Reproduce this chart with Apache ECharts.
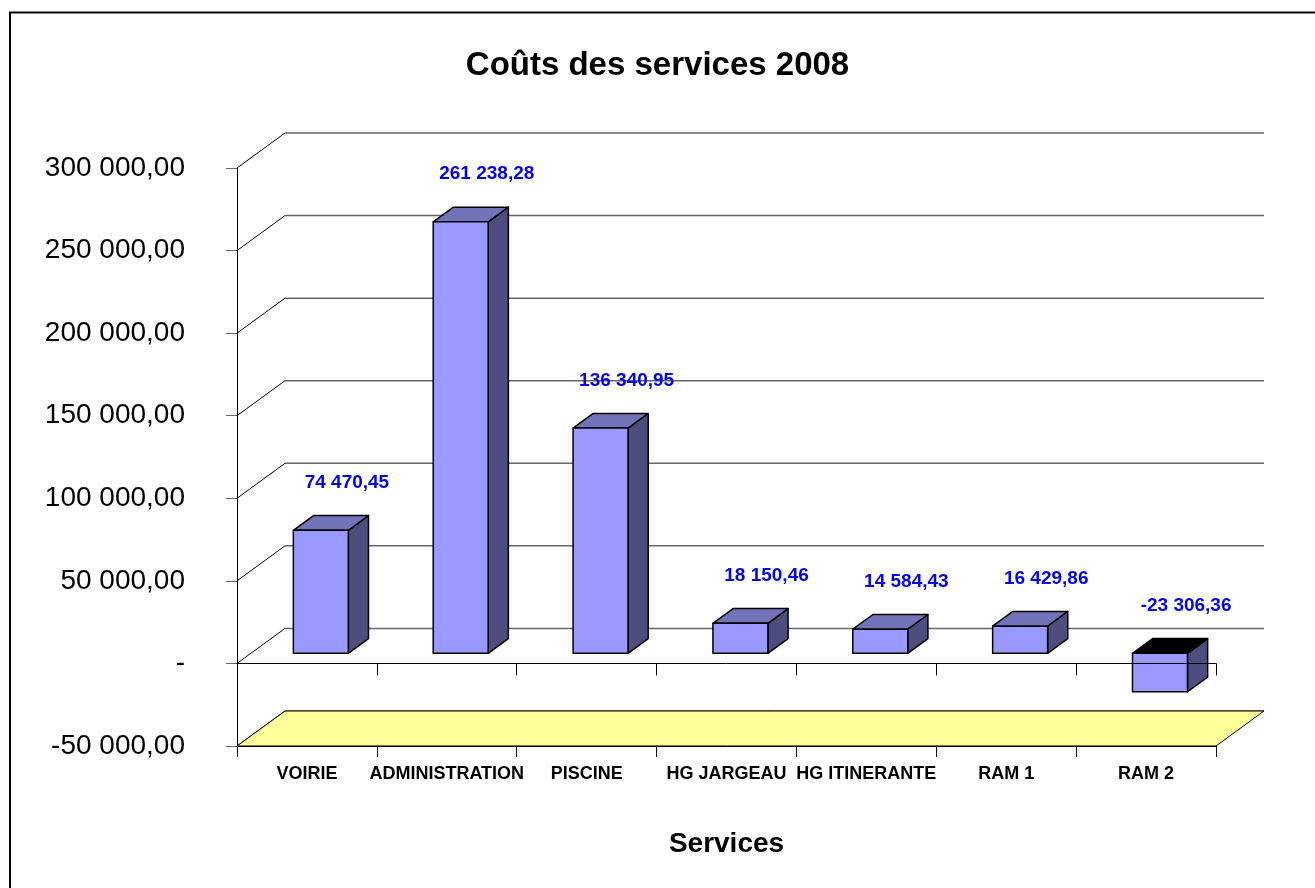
<!DOCTYPE html>
<html>
<head>
<meta charset="utf-8">
<script src="https://cdn.jsdelivr.net/npm/echarts@6/dist/echarts.min.js"></script>
<style>
html, body { margin: 0; padding: 0; background: #fff; }
#chart { width: 1315px; height: 888px; }
</style>
</head>
<body>
<div id="chart"></div>
<script>
// données
const services = ["VOIRIE", "ADMINISTRATION", "PISCINE", "HG JARGEAU", "HG ITINERANTE", "RAM 1", "RAM 2"];
const couts = [74470.45, 261238.28, 136340.95, 18150.46, 14584.43, 16429.86, -23306.36];
const yTicks = [-50000, 0, 50000, 100000, 150000, 200000, 250000, 300000];

// effet 3D (profondeur du mur)
const DX = 48, DY = -35;
const F1 = 0.29, F2 = 0.71; // position de la barre dans la profondeur
const FONT = "'Liberation Sans', Arial, sans-serif";

const fmt = (v) => {
	if (v === 0) return "-";
	const s = Math.abs(v).toFixed(2).split(".");
	const ent = s[0].replace(/\B(?=(\d{3})+(?!\d))/g, " ");
	return (v < 0 ? "-" : "") + ent + "," + s[1];
};

const chart = echarts.init(document.getElementById("chart"));

// lignes du quadrillage (mur gauche + mur du fond)
const renderGrid = (params, api) => {
	const v = api.value(1);
	const band = api.size([1, 0])[0];
	const p0 = api.coord([0, v]);
	const p1 = api.coord([services.length - 1, v]);
	const x0 = p0[0] - band / 2;
	const x1 = p1[0] + band / 2;
	const y = p0[1];
	return {
		type: "group",
		children: [
			{
				type: "polyline",
				shape: { points: [[x0, y], [x0 + DX, y + DY]] },
				style: { stroke: "#000", lineWidth: 1, fill: null }
			},
			{
				type: "line",
				shape: { x1: x0 + DX, y1: y + DY, x2: x1 + DX, y2: y + DY },
				style: { stroke: "#666", lineWidth: 1.5 }
			}
		]
	};
};

// plancher jaune
const renderFloor = (params, api) => {
	const v = api.value(1);
	const band = api.size([1, 0])[0];
	const p0 = api.coord([0, v]);
	const p1 = api.coord([services.length - 1, v]);
	const x0 = p0[0] - band / 2;
	const x1 = p1[0] + band / 2;
	const y = p0[1];
	return {
		type: "polygon",
		shape: { points: [[x0, y], [x1, y], [x1 + DX, y + DY], [x0 + DX, y + DY]] },
		style: { fill: "#FFFF99", stroke: "#000", lineWidth: 1 }
	};
};

// barres 3D
const renderBar = (params, api) => {
	const i = api.value(0);
	const v = api.value(1);
	const band = api.size([1, 0])[0];
	const base = api.coord([i, 0]);
	const top = api.coord([i, v]);
	const w = band * 0.393;
	const ox = DX * F1, oy = DY * F1;
	const dx = DX * (F2 - F1), dy = DY * (F2 - F1);
	const xl = base[0] - w / 2 + ox;
	const xr = xl + w;
	const yT = Math.min(base[1], top[1]) + oy;
	const yB = Math.max(base[1], top[1]) + oy;
	const line = { stroke: "#000", lineWidth: 1.5, lineJoin: "round" };
	const anchorY = (v >= 0 ? top[1] : base[1]);
	return {
		type: "group",
		children: [
			{
				type: "polygon",
				shape: { points: [[xr, yT], [xr + dx, yT + dy], [xr + dx, yB + dy], [xr, yB]] },
				style: Object.assign({ fill: "#4D4D80" }, line)
			},
			{
				type: "polygon",
				shape: { points: [[xl, yT], [xl + dx, yT + dy], [xr + dx, yT + dy], [xr, yT]] },
				style: Object.assign({ fill: v >= 0 ? "#7373BA" : "#000" }, line)
			},
			{
				type: "rect",
				shape: { x: xl, y: yT, width: w, height: yB - yT },
				style: Object.assign({ fill: "#9999FF" }, line)
			},
			{
				type: "text",
				x: base[0] + 40,
				y: anchorY - 58,
				style: {
					text: fmt(v),
					fill: "#0000FF",
					font: "bold 19px " + FONT,
					align: "center",
					verticalAlign: "middle"
				}
			}
		]
	};
};

const option = {
	animation: false,
	backgroundColor: "#fff",
	title: {
		text: "Coûts des services 2008",
		left: "center",
		top: 44,
		textStyle: { fontFamily: FONT, fontSize: 33, fontWeight: "bold", color: "#000" }
	},
	graphic: [
		{
			type: "rect",
			shape: { x: 10, y: 12.5, width: 1400, height: 1000 },
			style: { fill: null, stroke: "#000", lineWidth: 2 },
			z: 100
		}
	],
	grid: { left: 237, right: 99, top: 168, bottom: 142 },
	xAxis: [
		{
			type: "category",
			data: services,
			position: "bottom",
			axisLine: { onZero: true, lineStyle: { color: "#000", width: 1 } },
			axisTick: { show: true, length: 12, lineStyle: { color: "#000" } },
			axisLabel: { show: false },
			z: 10
		},
		{
			type: "category",
			data: services,
			position: "bottom",
			axisLine: { onZero: false, show: true, lineStyle: { color: "#000", width: 1 } },
			axisTick: { show: true, length: 11, lineStyle: { color: "#000" } },
			axisLabel: {
				margin: 19,
				color: "#000",
				fontFamily: FONT,
				fontSize: 18,
				fontWeight: "bold",
				interval: 0
			},
			name: "Services",
			nameLocation: "middle",
			nameGap: 84,
			nameTextStyle: { fontFamily: FONT, fontSize: 28, fontWeight: "bold", color: "#000" },
			z: 10
		}
	],
	yAxis: {
		type: "value",
		min: yTicks[0],
		max: yTicks[yTicks.length - 1],
		interval: yTicks[1] - yTicks[0],
		axisLine: { show: true, lineStyle: { color: "#000", width: 1 } },
		axisTick: { show: true, length: 11, lineStyle: { color: "#666" } },
		splitLine: { show: false },
		axisLabel: {
			margin: 52,
			color: "#000",
			fontFamily: FONT,
			fontSize: 28,
			formatter: fmt
		}
	},
	series: [
		{
			type: "custom",
			xAxisIndex: 0,
			renderItem: renderGrid,
			data: yTicks.map((v) => [0, v]),
			silent: true,
			z: 1
		},
		{
			type: "custom",
			xAxisIndex: 0,
			renderItem: renderFloor,
			data: [[0, yTicks[0]]],
			silent: true,
			z: 1
		},
		{
			type: "custom",
			xAxisIndex: 0,
			renderItem: renderBar,
			data: couts.map((v, i) => [i, v]),
			z: 2
		}
	]
};

chart.setOption(option);
</script>
</body>
</html>
